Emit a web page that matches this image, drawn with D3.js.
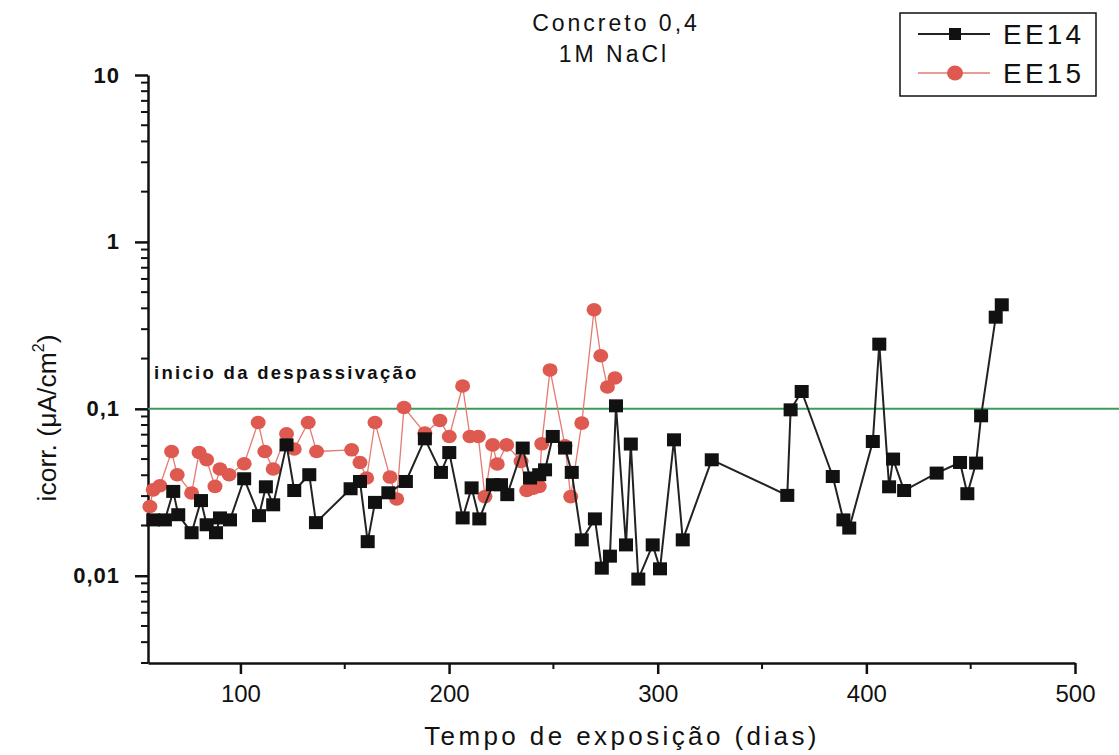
<!DOCTYPE html>
<html>
<head>
<meta charset="utf-8">
<script src="https://cdn.jsdelivr.net/npm/d3@7"></script>
<style>
  body { margin: 0; background: #fff; }
  text { font-family: "Liberation Sans", Arial, sans-serif; fill: #111; }
  .x-axis text { font-size: 24px; }
  .y-axis text { font-size: 22px; font-weight: bold; letter-spacing: 1px; }
</style>
</head>
<body>
<div id="chart"></div>
<script>
const svgWidth = 1119;
const svgHeight = 755;

// EE14 (black squares) - days / icorr
const ee14Days = [58.2,63.8,67.8,70.2,76.6,81.1,83.8,88.3,90.2,95.0,101.8,108.9,112.2,115.7,122.1,125.8,133.0,136.2,152.8,157.3,161.0,164.5,170.9,179.3,188.4,196.1,200.1,206.5,210.8,214.5,221.0,224.9,227.9,235.3,238.8,243.2,246.0,249.7,255.6,258.8,263.6,269.9,273.2,277.1,280.0,284.8,287.1,290.7,297.6,301.1,307.8,312.0,325.9,362.1,363.7,369.0,383.9,389.0,391.8,403.1,406.2,410.9,412.8,418.1,433.7,444.9,448.4,452.6,455.0,462.0,464.9];
const ee14Icorr = [0.0216,0.0216,0.032,0.0232,0.0181,0.0282,0.0202,0.0181,0.0222,0.0216,0.0381,0.0229,0.0341,0.0266,0.0608,0.0324,0.0403,0.0208,0.0332,0.0367,0.016,0.0275,0.0314,0.0367,0.0661,0.0416,0.0547,0.0222,0.0336,0.0219,0.0351,0.0351,0.0306,0.0582,0.0385,0.0403,0.0431,0.0683,0.0582,0.0416,0.0164,0.0219,0.0111,0.0131,0.1042,0.0153,0.0615,0.00955,0.0153,0.011,0.0652,0.0164,0.0495,0.0303,0.0986,0.127,0.0393,0.0216,0.0193,0.0637,0.244,0.0341,0.05,0.0324,0.0412,0.0477,0.031,0.0473,0.0908,0.354,0.42];

// EE15 (red circles)
const ee15Days = [56.6,58.2,61.4,67.0,69.7,76.6,80.2,83.8,87.8,90.2,94.6,101.8,108.5,111.7,115.7,122.1,125.8,132.5,136.5,153.3,157.3,160.5,164.5,171.7,174.9,178.4,188.4,195.6,200.1,206.5,210.0,214.0,217.2,220.9,223.1,227.6,234.5,237.2,240.4,243.2,244.4,248.4,255.6,258.3,263.6,269.5,272.7,275.9,279.5];
const ee15Icorr = [0.026,0.0327,0.0346,0.0555,0.0403,0.0313,0.0547,0.0495,0.0343,0.0436,0.0403,0.0469,0.0828,0.0555,0.0436,0.0708,0.0574,0.0828,0.0555,0.0568,0.0477,0.0385,0.0828,0.039,0.0288,0.1018,0.0715,0.0851,0.0683,0.137,0.0683,0.0683,0.0298,0.0608,0.0467,0.0608,0.0484,0.0324,0.0335,0.0343,0.0617,0.171,0.06,0.0298,0.0821,0.392,0.208,0.135,0.153];

const xTicks = [100, 200, 300, 400, 500];
const yTicks = [10, 1, 0.1, 0.01];
const yTickLabels = ['10', '1', '0,1', '0,01'];
const thresholdValue = 0.1;

let margin = { top: 75, right: 44, bottom: 92, left: 148 };
let width = svgWidth - margin.left - margin.right;
let height = svgHeight - margin.top - margin.bottom;

let svg = d3.select('#chart').append('svg')
    .attr('width', svgWidth)
    .attr('height', svgHeight);

let chartGroup = svg.append('g')
    .attr('transform', `translate(${margin.left}, ${margin.top})`);

let xScale = d3.scaleLinear().domain([55.7, 500]).range([0, width]);
let yScale = d3.scaleLog().domain([0.003, 10]).range([height, 0]);

// minor ticks
let xMinor = d3.range(50, 501, 50).filter(d => d > 55.7 && d % 100 !== 0);
let yMinor = [];
[0.001, 0.01, 0.1, 1].forEach(b => {
    for (let k = 2; k <= 9; k++) {
        let v = b * k;
        if (v >= 0.003 && v < 10) yMinor.push(v);
    }
});

chartGroup.append('g').selectAll('line')
    .data(xMinor).enter().append('line')
    .attr('x1', d => xScale(d)).attr('x2', d => xScale(d))
    .attr('y1', height).attr('y2', height + 6)
    .attr('stroke', '#111').attr('stroke-width', 2);

chartGroup.append('g').selectAll('line')
    .data(yMinor).enter().append('line')
    .attr('x1', 0).attr('x2', -7)
    .attr('y1', d => yScale(d)).attr('y2', d => yScale(d))
    .attr('stroke', '#111').attr('stroke-width', 2);

// x axis
let xAxis = chartGroup.append('g')
    .attr('class', 'x-axis')
    .attr('transform', `translate(0,${height})`)
    .call(d3.axisBottom(xScale).tickValues(xTicks).tickSize(11).tickPadding(11).tickSizeOuter(0))
    .attr('font-size', 24);
xAxis.select('.domain').attr('stroke-width', 2.5).attr('stroke', '#111');
xAxis.selectAll('.tick line').attr('stroke-width', 2.5).attr('stroke', '#111');
xAxis.selectAll('.tick text').attr('fill', '#111');

// y axis
let yAxis = chartGroup.append('g')
    .attr('class', 'y-axis')
    .call(d3.axisLeft(yScale).tickValues(yTicks).tickFormat((d, i) => yTickLabels[i])
        .tickSize(13).tickPadding(15).tickSizeOuter(0))
    .attr('font-size', 22);
yAxis.select('.domain').attr('stroke-width', 2.5).attr('stroke', '#111');
yAxis.selectAll('.tick line').attr('stroke-width', 2.5).attr('stroke', '#111');
yAxis.selectAll('.tick text').attr('fill', '#111');

// despassivation threshold line
chartGroup.append('line')
    .attr('x1', 0).attr('x2', svgWidth - margin.left)
    .attr('y1', yScale(thresholdValue)).attr('y2', yScale(thresholdValue))
    .attr('stroke', '#3c9a5c').attr('stroke-width', 2);

chartGroup.append('text')
    .attr('x', 6).attr('y', yScale(thresholdValue) - 30)
    .style('font-size', '18.5px').style('font-weight', 'bold')
    .style('letter-spacing', '2.3px')
    .text('inicio da despassivação');

let ee15 = ee15Days.map((d, i) => ({ x: d, y: ee15Icorr[i] }));
let ee14 = ee14Days.map((d, i) => ({ x: d, y: ee14Icorr[i] }));

let line = d3.line().x(d => xScale(d.x)).y(d => yScale(d.y));

// EE15
chartGroup.append('path').datum(ee15)
    .attr('d', line).attr('fill', 'none')
    .attr('stroke', '#e57a72').attr('stroke-width', 1.3);
chartGroup.append('g').selectAll('ellipse')
    .data(ee15).enter().append('ellipse')
    .attr('cx', d => xScale(d.x)).attr('cy', d => yScale(d.y))
    .attr('rx', 7.5).attr('ry', 6.8)
    .attr('fill', '#de5a50');

// EE14
chartGroup.append('path').datum(ee14)
    .attr('d', line).attr('fill', 'none')
    .attr('stroke', '#222').attr('stroke-width', 2);
chartGroup.append('g').selectAll('rect')
    .data(ee14).enter().append('rect')
    .attr('x', d => xScale(d.x) - 7).attr('y', d => yScale(d.y) - 6.5)
    .attr('width', 14).attr('height', 13)
    .attr('fill', '#111');

// title
svg.append('text')
    .attr('x', 616).attr('y', 31).attr('text-anchor', 'middle')
    .style('font-size', '23px').style('letter-spacing', '3px')
    .text('Concreto 0,4');
svg.append('text')
    .attr('x', 614).attr('y', 62).attr('text-anchor', 'middle')
    .style('font-size', '23px').style('letter-spacing', '3px')
    .text('1M NaCl');

// axis titles
svg.append('text')
    .attr('x', 622).attr('y', 745).attr('text-anchor', 'middle')
    .style('font-size', '26px').style('letter-spacing', '3.4px')
    .text('Tempo de exposição (dias)');

let yTitle = svg.append('text')
    .attr('transform', `translate(56,${418})rotate(-90)`)
    .attr('text-anchor', 'middle')
    .style('font-size', '26.5px');
yTitle.append('tspan').text('icorr. (μA/cm');
yTitle.append('tspan').attr('dy', -12).style('font-size', '16px').text('2');
yTitle.append('tspan').attr('dy', 12).text(')');

// legend
let legend = svg.append('g');
legend.append('rect')
    .attr('x', 900).attr('y', 13).attr('width', 196).attr('height', 83)
    .attr('fill', '#fff').attr('stroke', '#111').attr('stroke-width', 1.5);

legend.append('line').attr('x1', 918).attr('x2', 990).attr('y1', 34).attr('y2', 34)
    .attr('stroke', '#222').attr('stroke-width', 2);
legend.append('rect').attr('x', 949).attr('y', 28).attr('width', 12).attr('height', 12).attr('fill', '#111');
legend.append('text').attr('x', 1003).attr('y', 44)
    .style('font-size', '28px').style('letter-spacing', '3.2px').text('EE14');

legend.append('line').attr('x1', 918).attr('x2', 990).attr('y1', 73).attr('y2', 73)
    .attr('stroke', '#e57a72').attr('stroke-width', 1.3);
legend.append('ellipse').attr('cx', 955).attr('cy', 73).attr('rx', 8).attr('ry', 7.5).attr('fill', '#de5a50');
legend.append('text').attr('x', 1003).attr('y', 83)
    .style('font-size', '28px').style('letter-spacing', '3.2px').text('EE15');
</script>
</body>
</html>
